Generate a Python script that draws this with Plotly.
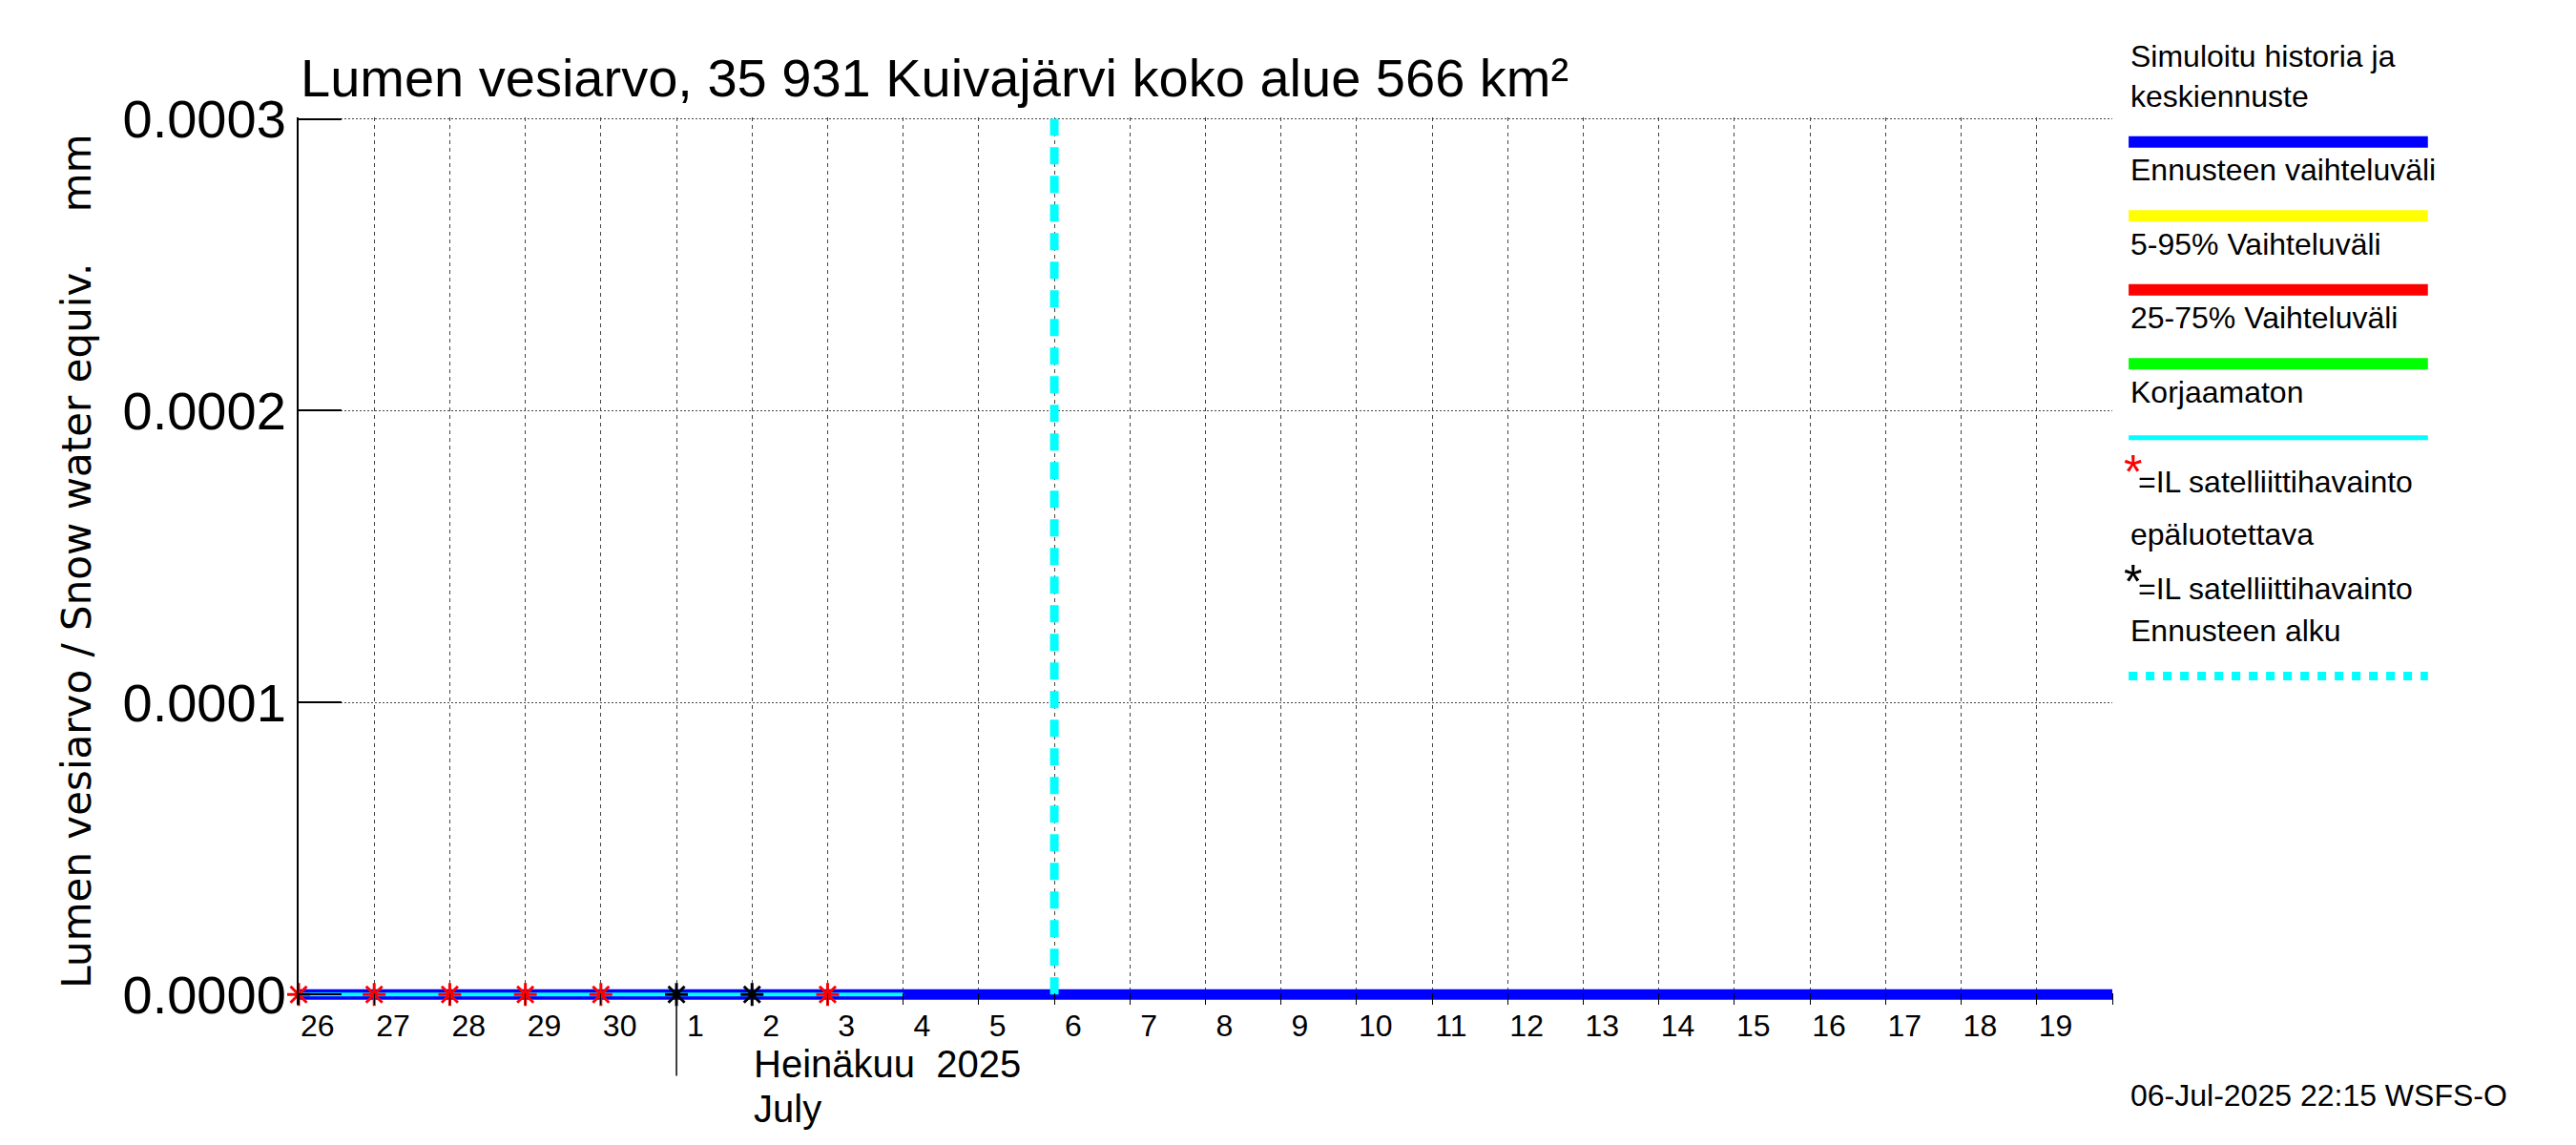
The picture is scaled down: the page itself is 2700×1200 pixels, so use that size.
import plotly.graph_objects as go

days = ["2025-06-26", "2025-06-27", "2025-06-28", "2025-06-29", "2025-06-30",
        "2025-07-01", "2025-07-02", "2025-07-03", "2025-07-04", "2025-07-05",
        "2025-07-06", "2025-07-07", "2025-07-08", "2025-07-09", "2025-07-10",
        "2025-07-11", "2025-07-12", "2025-07-13", "2025-07-14", "2025-07-15",
        "2025-07-16", "2025-07-17", "2025-07-18", "2025-07-19", "2025-07-20"]
day_labels = ["26", "27", "28", "29", "30", "1", "2", "3", "4", "5", "6", "7", "8",
              "9", "10", "11", "12", "13", "14", "15", "16", "17", "18", "19"]
sim_values = [0.0] * len(days)
uncorr_days = days[:9]
uncorr_values = [0.0] * 9
obs_red_days = ["2025-06-26", "2025-06-27", "2025-06-28", "2025-06-29", "2025-06-30", "2025-07-03"]
obs_red_values = [0.0] * 6
obs_black_days = ["2025-07-01", "2025-07-02"]
obs_black_values = [0.0] * 2
forecast_start = "2025-07-06"
label_pos = [d + " 06:00" for d in days[:-1]]

font = "Liberation Sans Narrow, Liberation Sans, Arial"

fig = go.Figure()
fig.add_trace(go.Scatter(x=days, y=sim_values, mode="lines",
                         line=dict(color="#0000ff", width=11)))
fig.add_trace(go.Scatter(x=uncorr_days, y=uncorr_values, mode="lines",
                         line=dict(color="#00ffff", width=4)))
fig.add_trace(go.Scatter(x=obs_red_days, y=obs_red_values, mode="markers", cliponaxis=False,
                         marker=dict(symbol="asterisk-open", size=20, color="red",
                                     line=dict(color="red", width=3))))
fig.add_trace(go.Scatter(x=obs_black_days, y=obs_black_values, mode="markers", cliponaxis=False,
                         marker=dict(symbol="asterisk-open", size=20, color="black",
                                     line=dict(color="black", width=3))))
fig.add_trace(go.Scatter(x=[forecast_start, forecast_start], y=[0, 0.0003], mode="lines",
                         line=dict(color="#00ffff", width=9, dash="18px,12px")))

fig.add_shape(type="line", xref="x", yref="paper", x0="2025-07-01", x1="2025-07-01",
              y0=0, y1=-0.08, line=dict(color="black", width=1.5))

fig.update_layout(
    width=2700, height=1200, showlegend=False,
    paper_bgcolor="white", plot_bgcolor="white",
    margin=dict(l=305, r=494, t=115, b=155),
    font=dict(family=font, color="black"),
    xaxis=dict(
        range=["2025-06-26", "2025-07-20"], tickvals=label_pos, ticktext=day_labels,
        ticks="", showgrid=False, tickfont=dict(size=32), showline=False,
        minor=dict(dtick=86400000, tick0="2025-06-26", showgrid=True, gridcolor="#444",
                   griddash="4px,4px", gridwidth=1, ticks="inside", ticklen=12, tickcolor="black"),
    ),
    yaxis=dict(
        range=[-0.0000035, 0.0003005], tickvals=[0, 0.0001, 0.0002, 0.0003], tickformat=".4f",
        ticks="inside", ticklen=45, tickwidth=2, tickcolor="black",
        showline=True, linecolor="black", linewidth=2,
        showgrid=True, gridcolor="#444", griddash="2px,2px", gridwidth=1,
        tickfont=dict(size=56), zeroline=False,
        title=dict(text="Lumen vesiarvo / Snow water equiv.    mm",
                   font=dict(family="DejaVu Sans", size=42), standoff=20),
    ),
)

fig.add_annotation(text="Lumen vesiarvo, 35 931 Kuivajärvi koko alue 566 km²", xref="paper", yref="paper",
                   x=0, y=1.0, xanchor="left", yanchor="bottom", yshift=8, showarrow=False,
                   font=dict(size=56))
fig.add_annotation(text="Heinäkuu  2025", xref="x", yref="paper", x="2025-07-02", y=-0.067,
                   xanchor="left", yanchor="middle", showarrow=False, font=dict(size=40))
fig.add_annotation(text="July", xref="x", yref="paper", x="2025-07-02", y=-0.117,
                   xanchor="left", yanchor="middle", showarrow=False, font=dict(size=40))
fig.add_annotation(text="06-Jul-2025 22:15 WSFS-O", xref="paper", yref="paper", x=1.009, y=-0.102,
                   xanchor="left", yanchor="middle", showarrow=False, font=dict(size=32))

scale = 1.722 / 930
legend_x0 = 1.009
legend_x1 = 1.174
items = [
    ("Simuloitu historia ja<br>keskiennuste", "#0000ff", "solid", 12, 82),
    ("Ennusteen vaihteluväli", "#ffff00", "solid", 12, 127),
    ("5-95% Vaihteluväli", "#ff0000", "solid", 12, 172),
    ("25-75% Vaihteluväli", "#00ff00", "solid", 12, 217),
    ("Korjaamaton", "#00ffff", "solid", 5, 262),
    ("Ennusteen alku", "#00ffff", "dot", 9, 407),
]
for text, color, dash, width, ydisp in items:
    yl = 1 - (ydisp - 67) * scale
    fig.add_shape(type="line", xref="paper", yref="paper", x0=legend_x0, x1=legend_x1,
                  y0=yl, y1=yl, line=dict(color=color, width=width, dash=dash))
    fig.add_annotation(text=text, xref="paper", yref="paper", x=legend_x0, y=yl + 0.03,
                       xanchor="left", yanchor="bottom", align="left", showarrow=False,
                       font=dict(size=32))
for text, ydisp in [("=IL satelliittihavainto", 289), ("epäluotettava", 321),
                    ("=IL satelliittihavainto", 354)]:
    yl = 1 - (ydisp - 67) * scale
    fig.add_annotation(text=text, xref="paper", yref="paper",
                       x=legend_x0 + (0.004 if text.startswith("=") else 0), y=yl,
                       xanchor="left", yanchor="middle", showarrow=False, font=dict(size=32))
for color, ydisp in [("red", 283), ("black", 350)]:
    yl = 1 - (ydisp - 67) * scale
    fig.add_annotation(text="*", xref="paper", yref="paper", x=legend_x0 - 0.004, y=yl,
                       xanchor="left", yanchor="middle", showarrow=False,
                       font=dict(size=50, color=color))

fig.write_html("out.html")
